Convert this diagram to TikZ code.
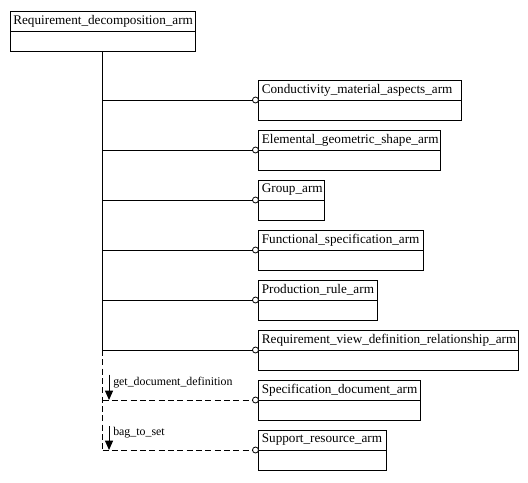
\documentclass[tikz,border=0pt]{standalone}
\usepackage{fontspec}
\setmainfont{Liberation Serif}
\usetikzlibrary{arrows.meta, positioning}
\tikzset{
  enthead/.style = {rectangle, draw, line width=0.75pt, anchor=north west, outer sep=0pt,
                    align=left, inner xsep=2.5pt, inner ysep=0pt, minimum height=15pt,
                    font=\fontsize{9.9}{11}\selectfont},
  entbody/.style = {rectangle, draw, line width=0.75pt, anchor=north west, outer sep=0pt,
                    inner sep=0pt, minimum height=15pt},
  ring/.style    = {circle, draw, line width=0.6pt, fill=white, inner sep=0pt,
                    outer sep=0pt, minimum size=4.5pt},
  conn/.style    = {line width=0.75pt},
  optconn/.style = {line width=0.75pt, dash pattern=on 4.5pt off 2.5pt},
  dirarrow/.style= {line width=0.75pt, -{Triangle[length=7pt, width=6pt]}},
  lbl/.style     = {font=\fontsize{8.9}{10}\selectfont, anchor=west, inner sep=0pt},
}

\begin{document}
\begin{tikzpicture}[x=0.75pt, y=-0.75pt]
  \useasboundingbox (0,0) rectangle (528,482);
  % root entity
  \node[enthead, minimum width=138.75pt, text width=133.75pt] (req) at (10,11)
    {\mbox{Requirement\_decomposition\_arm}};
  \node[entbody, minimum width=138.75pt] (req-b) at (req.south west) {};
  % subtypes
  \foreach \i/\nm/\w in {
      1/{Conductivity\_material\_aspects\_arm}/203,
      2/{Elemental\_geometric\_shape\_arm}/182,
      3/{Group\_arm}/66,
      4/{Functional\_specification\_arm}/165,
      5/{Production\_rule\_arm}/119,
      6/{Requirement\_view\_definition\_relationship\_arm}/260,
      7/{Specification\_document\_arm}/162,
      8/{Support\_resource\_arm}/128}{
    \pgfmathsetlengthmacro\bw{\w*0.75pt}
    \pgfmathsetlengthmacro\tw{\w*0.75pt-5pt}
    \node[enthead, minimum width=\bw, text width=\tw] (e\i) at (258.5,{50*\i+30}) {\mbox{\nm}};
    \node[entbody, minimum width=\bw] (e\i-b) at (e\i.south west) {};
    \node[ring] (o\i) at ([xshift=-2.25pt]e\i.south west) {};
    \coordinate (j\i) at (req-b.south |- o\i);
  }
  % trunk
  \draw[conn] (req-b.south) -- (j6);
  \draw[optconn] (j6) -- (j8);
  \foreach \i in {1,...,6}{\draw[conn] (j\i) -- (o\i.west);}
  \foreach \i in {7,8}{\draw[optconn] (j\i) -- (o\i.west);}
  % attribute directions
  \coordinate (a7) at ([xshift=4.9pt]j7);
  \coordinate (a8) at ([xshift=4.9pt]j8);
  \draw[dirarrow] ([yshift=19pt]a7) -- (a7);
  \draw[dirarrow] ([yshift=18pt]a8) -- (a8);
  \node[lbl] (l7) at (113,383) {get\_document\_definition};
  \node[lbl] (l8) at (113,433) {bag\_to\_set};
\end{tikzpicture}
\end{document}
